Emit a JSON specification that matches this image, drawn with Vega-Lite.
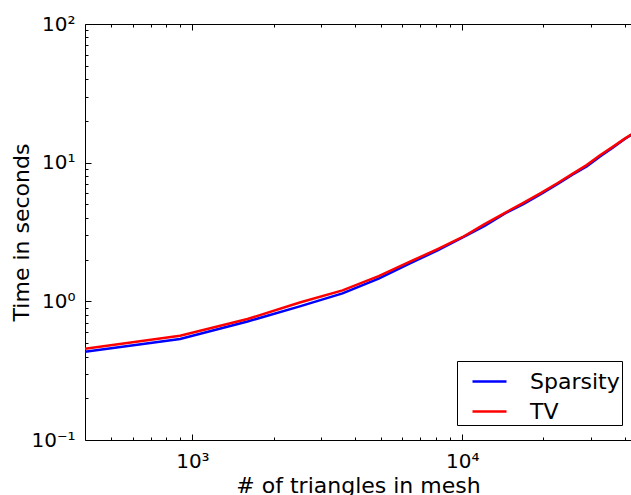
{
  "$schema": "https://vega.github.io/schema/vega-lite/v6.json",
  "width": 546,
  "height": 416,
  "autosize": {"type": "none"},
  "padding": {"left": 85, "top": 24, "right": 0, "bottom": 55},
  "config": {
    "font": "DejaVu Sans",
    "view": {"stroke": null},
    "axis": {
      "grid": false,
      "domainColor": "black",
      "domainWidth": 1,
      "tickColor": "black",
      "tickWidth": 1,
      "labelColor": "black",
      "titleColor": "black",
      "labelFont": "DejaVu Sans",
      "titleFont": "DejaVu Sans",
      "labelFontSize": 20,
      "titleFontSize": 22,
      "titleFontWeight": "normal"
    }
  },
  "data": {
    "values": [
      {"triangles": 400, "seconds": 0.432, "method": "Sparsity"},
      {"triangles": 900, "seconds": 0.535, "method": "Sparsity"},
      {"triangles": 1600, "seconds": 0.715, "method": "Sparsity"},
      {"triangles": 2500, "seconds": 0.92, "method": "Sparsity"},
      {"triangles": 3600, "seconds": 1.14, "method": "Sparsity"},
      {"triangles": 4900, "seconds": 1.46, "method": "Sparsity"},
      {"triangles": 6400, "seconds": 1.88, "method": "Sparsity"},
      {"triangles": 8100, "seconds": 2.33, "method": "Sparsity"},
      {"triangles": 10000, "seconds": 2.88, "method": "Sparsity"},
      {"triangles": 12100, "seconds": 3.5, "method": "Sparsity"},
      {"triangles": 14400, "seconds": 4.3, "method": "Sparsity"},
      {"triangles": 16900, "seconds": 5.05, "method": "Sparsity"},
      {"triangles": 19600, "seconds": 5.95, "method": "Sparsity"},
      {"triangles": 22500, "seconds": 7.0, "method": "Sparsity"},
      {"triangles": 25600, "seconds": 8.2, "method": "Sparsity"},
      {"triangles": 28900, "seconds": 9.4, "method": "Sparsity"},
      {"triangles": 32400, "seconds": 11.1, "method": "Sparsity"},
      {"triangles": 36100, "seconds": 12.8, "method": "Sparsity"},
      {"triangles": 40000, "seconds": 14.8, "method": "Sparsity"},
      {"triangles": 44100, "seconds": 16.7, "method": "Sparsity"},
      {"triangles": 400, "seconds": 0.455, "method": "TV"},
      {"triangles": 900, "seconds": 0.565, "method": "TV"},
      {"triangles": 1600, "seconds": 0.745, "method": "TV"},
      {"triangles": 2500, "seconds": 0.98, "method": "TV"},
      {"triangles": 3600, "seconds": 1.2, "method": "TV"},
      {"triangles": 4900, "seconds": 1.52, "method": "TV"},
      {"triangles": 6400, "seconds": 1.93, "method": "TV"},
      {"triangles": 8100, "seconds": 2.38, "method": "TV"},
      {"triangles": 10000, "seconds": 2.9, "method": "TV"},
      {"triangles": 12100, "seconds": 3.6, "method": "TV"},
      {"triangles": 14400, "seconds": 4.35, "method": "TV"},
      {"triangles": 16900, "seconds": 5.15, "method": "TV"},
      {"triangles": 19600, "seconds": 6.05, "method": "TV"},
      {"triangles": 22500, "seconds": 7.1, "method": "TV"},
      {"triangles": 25600, "seconds": 8.3, "method": "TV"},
      {"triangles": 28900, "seconds": 9.6, "method": "TV"},
      {"triangles": 32400, "seconds": 11.3, "method": "TV"},
      {"triangles": 36100, "seconds": 13.0, "method": "TV"},
      {"triangles": 40000, "seconds": 14.9, "method": "TV"},
      {"triangles": 44100, "seconds": 16.8, "method": "TV"}
    ]
  },
  "layer": [
    {
      "mark": {"type": "line", "strokeWidth": 2.5, "clip": true},
      "encoding": {
        "x": {
          "field": "triangles",
          "type": "quantitative",
          "scale": {"type": "log", "domain": [400, 42200], "nice": false},
          "axis": {
            "orient": "bottom",
            "title": "# of triangles in mesh",
            "values": [500, 600, 700, 800, 900, 1000, 2000, 3000, 4000, 5000, 6000, 7000, 8000, 9000, 10000, 20000, 30000, 40000],
            "labelExpr": "datum.value == 1000 ? '10³' : datum.value == 10000 ? '10⁴' : ''",
            "tickSize": {"condition": {"test": "datum.value == 1000 || datum.value == 10000", "value": -6}, "value": -3},
            "labelPadding": 17,
            "labelFlush": false,
            "labelOverlap": false,
            "titlePadding": 1
          }
        },
        "y": {
          "field": "seconds",
          "type": "quantitative",
          "scale": {"type": "log", "domain": [0.1, 100], "nice": false},
          "axis": {
            "orient": "left",
            "title": "Time in seconds",
            "values": [0.1, 0.2, 0.3, 0.4, 0.5, 0.6, 0.7, 0.8, 0.9, 1, 2, 3, 4, 5, 6, 7, 8, 9, 10, 20, 30, 40, 50, 60, 70, 80, 90, 100],
            "labelExpr": "datum.value == 0.1 ? '10⁻¹' : datum.value == 1 ? '10⁰' : datum.value == 10 ? '10¹' : datum.value == 100 ? '10²' : ''",
            "tickSize": {"condition": {"test": "datum.value == 0.1 || datum.value == 1 || datum.value == 10 || datum.value == 100", "value": -6}, "value": -3},
            "labelPadding": 16,
            "labelFlush": false,
            "labelOverlap": false,
            "titlePadding": -3
          }
        },
        "color": {
          "field": "method",
          "type": "nominal",
          "scale": {"domain": ["Sparsity", "TV"], "range": ["#0000ff", "#ff0000"]},
          "legend": {
            "orient": "none",
            "legendX": 372,
            "legendY": 337,
            "title": null,
            "symbolType": "stroke",
            "symbolStrokeWidth": 2.5,
            "symbolSize": 1156,
            "symbolOffset": 12,
            "labelFontSize": 22,
            "labelFont": "DejaVu Sans",
            "labelColor": "black",
            "labelOffset": 22,
            "labelExpr": "datum.label + ' '",
            "padding": 2,
            "rowPadding": 0,
            "strokeColor": "black",
            "fillColor": "white",
            "cornerRadius": 0
          }
        }
      }
    },
    {
      "mark": {"type": "line", "opacity": 0, "clip": true},
      "encoding": {
        "x": {
          "field": "triangles",
          "type": "quantitative",
          "axis": {
            "orient": "top",
            "title": null,
            "labels": false,
            "values": [500, 600, 700, 800, 900, 1000, 2000, 3000, 4000, 5000, 6000, 7000, 8000, 9000, 10000, 20000, 30000, 40000],
            "tickSize": {"condition": {"test": "datum.value == 1000 || datum.value == 10000", "value": -6}, "value": -3}
          }
        },
        "y": {"field": "seconds", "type": "quantitative", "axis": null},
        "detail": {"field": "method"}
      }
    }
  ],
  "resolve": {"axis": {"x": "independent", "y": "independent"}}
}
